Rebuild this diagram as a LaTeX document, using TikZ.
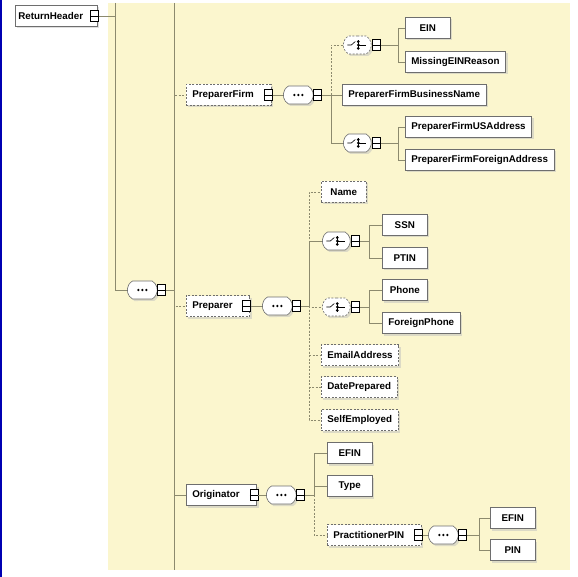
\documentclass[tikz,border=0pt]{standalone}
\usepackage{fontspec}
\setmainfont{Liberation Sans}
\usetikzlibrary{shapes.misc,shadows}

\definecolor{panel}{RGB}{251,246,206}
\definecolor{stem}{RGB}{140,138,110}
\definecolor{rim}{RGB}{110,110,110}

\begin{document}
\begin{tikzpicture}[x=1pt,y=-1pt,line width=0.6pt,
  font=\fontsize{9.8}{11}\selectfont\bfseries]
  \tikzstyle{elem}=[draw=rim,fill=white,anchor=west,minimum height=21,
    minimum width=45,inner xsep=6,inner ysep=0,
    drop shadow={shadow xshift=2pt,shadow yshift=-2pt,fill=black!25}]
  \tikzstyle{opt}=[dash pattern=on 2pt off 1.5pt]
  \tikzstyle{parent}=[elem,execute at end node={\hspace*{11pt}}]
  \tikzstyle{comp}=[rounded rectangle,rounded rectangle arc length=120,
    draw=rim,fill=white,anchor=west,minimum height=18,inner sep=0,
    drop shadow={shadow xshift=2pt,shadow yshift=-2pt,fill=black!25}]
  \tikzstyle{seq}=[comp,minimum width=30,path picture={
      \fill[black] (path picture bounding box.center) circle (1.3)
        ++(-4,0) circle (1.3) ++(8,0) circle (1.3);}]
  \tikzstyle{choice}=[comp,minimum width=28,path picture={
      \begin{scope}[shift={(path picture bounding box.center)},solid]
        \draw[black,line width=0.6pt] (-10,0) -- (-6,0) -- (-2,-3.5);
        \draw[black,line width=0.5pt] (1,-4.5) -- (1,4.5);
        \fill[black] (1,-3.4) circle (1.5) (1,0) circle (1.5)
          (1,3.4) circle (1.5);
        \draw[black,line width=0.6pt] (1,0) -- (9,0);
      \end{scope}}]
  \tikzstyle{fold}=[draw=black,fill=white,solid,line width=0.9pt,
    minimum width=8,minimum height=11,inner sep=0,path picture={
      \draw[line width=0.7pt] (path picture bounding box.west) --
        (path picture bounding box.east);}]
  \tikzstyle{wire}=[draw=stem,line width=0.6pt]

  \useasboundingbox (0,0) rectangle (578,577);
  \fill[panel] (108,3) rectangle (570,570);
  \fill[blue!70!black] (0,0) rectangle (1.5,577);
  \coordinate (top) at (0,3);
  \coordinate (bot) at (0,570);

  % root
  \node[parent,inner xsep=3] (rh) at (15,16) {ReturnHeader};
  \node[fold] (rhf) at ([xshift=-3pt]rh.east) {};
  \coordinate (k0) at ([xshift=16pt]rhf.east);
  \node[seq] (s1) at (127,290) {};
  \node[fold] (s1f) at ([xshift=4pt]s1.east) {};
  \coordinate (k1) at ([xshift=8pt]s1f.east);

  % PreparerFirm
  \node[parent,opt] (pf) at (186,95) {PreparerFirm};
  \node[fold] (pff) at ([xshift=-3pt]pf.east) {};
  \node[seq] (s2) at (283,95) {};
  \node[fold] (s2f) at ([xshift=4pt]s2.east) {};
  \coordinate (k2) at ([xshift=9pt]s2f.east);
  \node[choice,opt] (c1) at (343,45) {};
  \node[fold] (c1f) at ([xshift=5pt]c1.east) {};
  \coordinate (k2a) at ([xshift=17pt]c1f.east);
  \node[elem] (ein) at (405,28) {EIN};
  \node[elem] (mer) at (405,62) {MissingEINReason};
  \node[elem] (pfbn) at (342,95) {PreparerFirmBusinessName};
  \node[choice] (c2) at (343,143) {};
  \node[fold] (c2f) at ([xshift=5pt]c2.east) {};
  \coordinate (k2b) at ([xshift=17pt]c2f.east);
  \node[elem] (usa) at (405,127) {PreparerFirmUSAddress};
  \node[elem] (fa) at (405,160) {PreparerFirmForeignAddress};

  % Preparer
  \node[parent,opt] (prep) at (186,306) {Preparer};
  \node[fold] (prepf) at ([xshift=-3pt]prep.east) {};
  \node[seq] (s3) at (262,306) {};
  \node[fold] (s3f) at ([xshift=4pt]s3.east) {};
  \coordinate (k3) at ([xshift=8pt]s3f.east);
  \node[elem,opt] (name) at (321,192) {Name};
  \node[choice] (c3) at (322,241) {};
  \node[fold] (c3f) at ([xshift=5pt]c3.east) {};
  \coordinate (k3a) at ([xshift=9pt]c3f.east);
  \node[elem] (ssn) at (382,225) {SSN};
  \node[elem] (ptin) at (382,258) {PTIN};
  \node[choice,opt] (c4) at (322,307) {};
  \node[fold] (c4f) at ([xshift=5pt]c4.east) {};
  \coordinate (k3b) at ([xshift=9pt]c4f.east);
  \node[elem] (phone) at (382,290) {Phone};
  \node[elem] (fphone) at (382,323) {ForeignPhone};
  \node[elem,opt] (email) at (321,355) {EmailAddress};
  \node[elem,opt] (date) at (321,387) {DatePrepared};
  \node[elem,opt] (self) at (321,420) {SelfEmployed};

  % Originator
  \node[parent] (orig) at (186,495) {Originator};
  \node[fold] (origf) at ([xshift=-3pt]orig.east) {};
  \node[seq] (s4) at (266,495) {};
  \node[fold] (s4f) at ([xshift=4pt]s4.east) {};
  \coordinate (k4) at ([xshift=9pt]s4f.east);
  \node[elem] (efin) at (327,453) {EFIN};
  \node[elem] (type) at (327,486) {Type};
  \node[parent,opt] (ppin) at (327,535) {PractitionerPIN};
  \node[fold] (ppinf) at ([xshift=-3pt]ppin.east) {};
  \node[seq] (s5) at (428,535) {};
  \node[fold] (s5f) at ([xshift=4pt]s5.east) {};
  \coordinate (k5) at ([xshift=12pt]s5f.east);
  \node[elem] (efin2) at (490,518) {EFIN};
  \node[elem] (pin) at (490,550) {PIN};

  % connectors
  \draw[wire] (k0 |- top) -- (k0);
  \draw[wire] (k1 |- top) -- (k1 |- bot);
  \draw[wire] (rhf.east) -- (k0) |- (s1.west);
  \draw[wire] (s1f.east) -- (k1);
  \draw[wire,opt] (k1) |- (pf.west);
  \draw[wire,opt] (k1) |- (prep.west);
  \draw[wire] (k1) |- (orig.west);

  \draw[wire] (pff.east) -- (s2.west);
  \draw[wire] (s2f.east) -- (k2);
  \draw[wire,opt] (k2) |- (c1.west);
  \draw[wire] (k2) |- (pfbn.west);
  \draw[wire] (k2) |- (c2.west);
  \draw[wire] (c1f.east) -- (k2a);
  \draw[wire] (k2a) |- (ein.west);
  \draw[wire] (k2a) |- (mer.west);
  \draw[wire] (c2f.east) -- (k2b);
  \draw[wire] (k2b) |- (usa.west);
  \draw[wire] (k2b) |- (fa.west);

  \draw[wire] (prepf.east) -- (s3.west);
  \draw[wire] (s3f.east) -- (k3);
  \draw[wire,opt] (k3) |- (name.west);
  \draw[wire] (k3) |- (c3.west);
  \draw[wire,opt] (k3) |- (c4.west);
  \draw[wire,opt] (k3) |- (email.west);
  \draw[wire,opt] (k3) |- (date.west);
  \draw[wire,opt] (k3) |- (self.west);
  \draw[wire] (c3f.east) -- (k3a);
  \draw[wire] (k3a) |- (ssn.west);
  \draw[wire] (k3a) |- (ptin.west);
  \draw[wire] (c4f.east) -- (k3b);
  \draw[wire] (k3b) |- (phone.west);
  \draw[wire] (k3b) |- (fphone.west);

  \draw[wire] (origf.east) -- (s4.west);
  \draw[wire] (s4f.east) -- (k4);
  \draw[wire] (k4) |- (efin.west);
  \draw[wire] (k4) |- (type.west);
  \draw[wire,opt] (k4) |- (ppin.west);
  \draw[wire] (ppinf.east) -- (s5.west);
  \draw[wire] (s5f.east) -- (k5);
  \draw[wire] (k5) |- (efin2.west);
  \draw[wire] (k5) |- (pin.west);
\end{tikzpicture}
\end{document}
